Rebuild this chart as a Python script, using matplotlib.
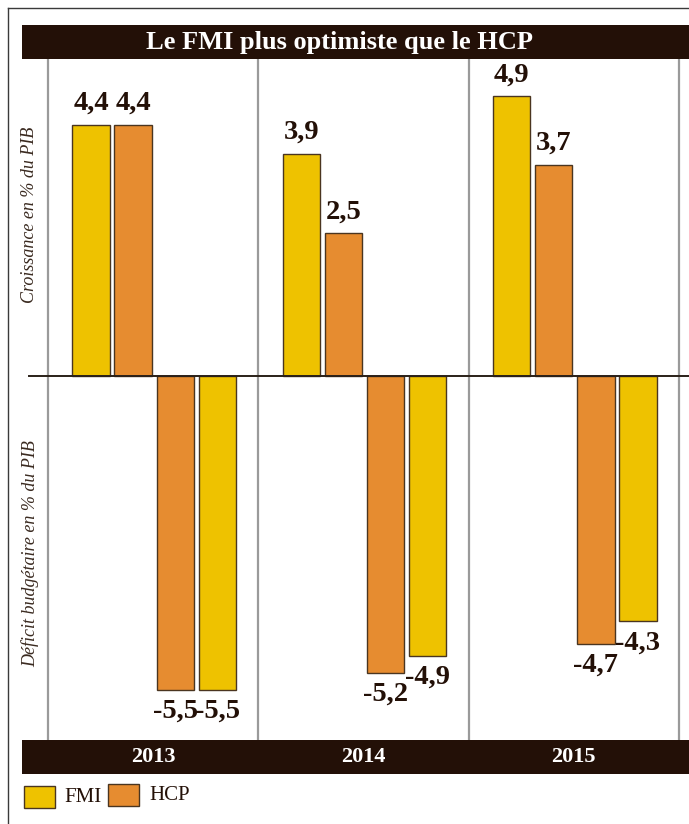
import matplotlib
matplotlib.use("Agg")
import matplotlib.pyplot as plt
from matplotlib.patches import Rectangle
from matplotlib.lines import Line2D

years = ['2013', '2014', '2015']
fmi_growth = [4.4, 3.9, 4.9]
hcp_growth = [4.4, 2.5, 3.7]
hcp_deficit = [-5.5, -5.2, -4.7]
fmi_deficit = [-5.5, -4.9, -4.3]
title = "Le FMI plus optimiste que le HCP"
ylabel_top = "Croissance en % du PIB"
ylabel_bottom = "Déficit budgétaire en % du PIB"

FMI_C = '#EEC200'
HCP_C = '#E68C30'
DARK = '#231007'
EDGE = '#4a3520'
W, H = 689, 824

fig = plt.figure(figsize=(W / 100, H / 100), dpi=100)
fig.patch.set_facecolor('white')

def fx(x):
    return x / W

def fy(y):
    return 1 - y / H

SERIF = ['Liberation Serif', 'DejaVu Serif']

# axes region: px x 20..689, y 59..740
ax = fig.add_axes([fx(20), fy(740), fx(689) - fx(20), fy(59) - fy(740)])
scale_x = 210.3
x0 = 48
ax.set_xlim((20 - x0) / scale_x, (689 - x0) / scale_x)
scale_y = 57.05
ax.set_ylim(-(740 - 376) / scale_y, (376 - 59) / scale_y)
ax.axis('off')

for g in range(4):
    ax.axvline(g, color='#9a9a9a', lw=1.6, zorder=0)
ax.plot([(29 - x0) / scale_x, (689 - x0) / scale_x], [0, 0], color='#2a2018', lw=1.4, zorder=3,
        clip_on=False)

offsets = [0.205, 0.405, 0.605, 0.805]
bw = 0.178
series = [(fmi_growth, FMI_C), (hcp_growth, HCP_C), (hcp_deficit, HCP_C), (fmi_deficit, FMI_C)]
for k, (vals, col) in enumerate(series):
    xs = [i + offsets[k] for i in range(len(years))]
    ax.bar(xs, vals, width=bw, color=col, edgecolor=EDGE, linewidth=1.0, zorder=2)
    for x, v in zip(xs, vals):
        txt = f"{v:.1f}".replace('.', ',')
        if v >= 0:
            ax.annotate(txt, (x, v), xytext=(0, 9), textcoords='offset pixels',
                        ha='center', va='bottom', fontsize=20.5, fontweight='bold',
                        family=SERIF, color=DARK)
        else:
            ax.annotate(txt, (x, v), xytext=(0, -9), textcoords='offset pixels',
                        ha='center', va='top', fontsize=20.5, fontweight='bold',
                        family=SERIF, color=DARK)

# outer frame
fig.add_artist(Line2D([fx(8), fx(8)], [fy(8), fy(824)], color='#3a3a3a', lw=1.0))
fig.add_artist(Line2D([fx(8), fx(689)], [fy(8), fy(8)], color='#3a3a3a', lw=1.0))

# title bar
fig.add_artist(Rectangle((fx(22), fy(59)), fx(689) - fx(22), fy(25) - fy(59),
                         transform=fig.transFigure, facecolor=DARK, edgecolor='none'))
fig.text(fx(340), fy(43), title, ha='center', va='center', color='white',
         fontsize=19, fontweight='bold', family=SERIF)

# bottom year bar
fig.add_artist(Rectangle((fx(22), fy(774)), fx(689) - fx(22), fy(740) - fy(774),
                         transform=fig.transFigure, facecolor=DARK, edgecolor='none'))
for i, yr in enumerate(years):
    fig.text(fx(x0 + (i + 0.5) * scale_x), fy(757), yr, ha='center', va='center',
             color='white', fontsize=16, fontweight='bold', family=SERIF)

# y labels
fig.text(fx(30), fy(215), ylabel_top, rotation=90, ha='center', va='center',
         fontsize=13, style='italic', family=SERIF, color='#3a2a20')
fig.text(fx(30), fy(554), ylabel_bottom, rotation=90, ha='center', va='center',
         fontsize=13, style='italic', family=SERIF, color='#3a2a20')

# legend
fig.add_artist(Rectangle((fx(24), fy(808)), fx(55) - fx(24), fy(786) - fy(808),
                         transform=fig.transFigure, facecolor=FMI_C, edgecolor=EDGE, lw=1.0))
fig.text(fx(64), fy(797), 'FMI', ha='left', va='center', fontsize=15, family=SERIF, color=DARK)
fig.add_artist(Rectangle((fx(108), fy(806)), fx(139) - fx(108), fy(784) - fy(806),
                         transform=fig.transFigure, facecolor=HCP_C, edgecolor=EDGE, lw=1.0))
fig.text(fx(149), fy(795), 'HCP', ha='left', va='center', fontsize=15, family=SERIF, color=DARK)

fig.savefig('out.png', dpi=100)
